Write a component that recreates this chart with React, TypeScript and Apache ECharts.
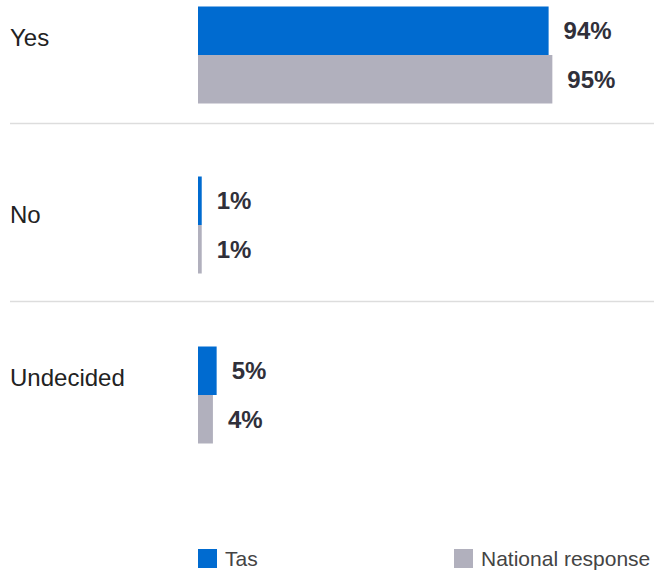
import React, { useEffect, useRef } from "react";
import * as echarts from "echarts";

const categories = ["Yes", "No", "Undecided"];
const seriesNames = ["Tas", "National response"];
const tasValues = [94, 1, 5];
const nationalValues = [95, 1, 4];

const BLUE = "#006bd0";
const GRAY = "#b1b0bd";
const FONT = "Liberation Sans, Arial, sans-serif";

export default function App() {
  const ref = useRef<HTMLDivElement>(null);
  useEffect(() => {
    if (!ref.current) return;
    const chart = echarts.init(ref.current, null, { renderer: "svg" });
    const labelStyle = {
      show: true,
      position: "right",
      distance: 15,
      formatter: "{c}%",
      fontFamily: FONT,
      fontWeight: "bold",
      fontSize: 24,
      color: "#30303a",
    };
    const legendText = {
      fontFamily: FONT,
      fontSize: 21,
      color: "#444444",
      padding: [0, 0, 0, 3],
    };
    chart.setOption({
      animation: false,
      grid: { left: 198, width: 373, top: 55, height: 340, containLabel: false },
      xAxis: {
        type: "value",
        min: 0,
        max: 100,
        show: false,
      },
      yAxis: {
        type: "category",
        data: categories,
        inverse: true,
        boundaryGap: false,
        axisLine: { show: false },
        axisTick: { show: false },
        splitLine: { show: false },
        axisLabel: {
          align: "left",
          margin: 188,
          formatter: (v: string) => (v === "No" ? `{b|${v}}` : `{a|${v}}`),
          rich: {
            a: {
              fontFamily: FONT,
              fontSize: 24,
              color: "#222222",
              padding: [0, 0, 36, 0],
            },
            b: {
              fontFamily: FONT,
              fontSize: 24,
              color: "#222222",
              padding: [0, 0, 22, 0],
            },
          },
        },
      },
      legend: [
        {
          data: [seriesNames[0]],
          left: 193,
          top: 543,
          icon: "rect",
          itemWidth: 19,
          itemHeight: 19,
          textStyle: legendText,
        },
        {
          data: [seriesNames[1]],
          left: 449,
          top: 543,
          icon: "rect",
          itemWidth: 19,
          itemHeight: 19,
          textStyle: legendText,
        },
      ],
      graphic: [
        {
          type: "line",
          shape: { x1: 10, y1: 123.5, x2: 654, y2: 123.5 },
          style: { stroke: "#dddddd", lineWidth: 1.5 },
        },
        {
          type: "line",
          shape: { x1: 10, y1: 301.5, x2: 654, y2: 301.5 },
          style: { stroke: "#dddddd", lineWidth: 1.5 },
        },
      ],
      series: [
        {
          name: seriesNames[0],
          type: "bar",
          data: tasValues,
          barWidth: 48.5,
          barGap: "0%",
          clip: false,
          itemStyle: { color: BLUE },
          label: labelStyle,
        },
        {
          name: seriesNames[1],
          type: "bar",
          data: nationalValues,
          barWidth: 48.5,
          barGap: "0%",
          clip: false,
          itemStyle: { color: GRAY },
          label: labelStyle,
        },
      ],
    });
    return () => chart.dispose();
  }, []);
  return (
    <div
      ref={ref}
      style={{ position: "absolute", left: 0, top: 0, width: 654, height: 573, background: "#fff" }}
    />
  );
}
